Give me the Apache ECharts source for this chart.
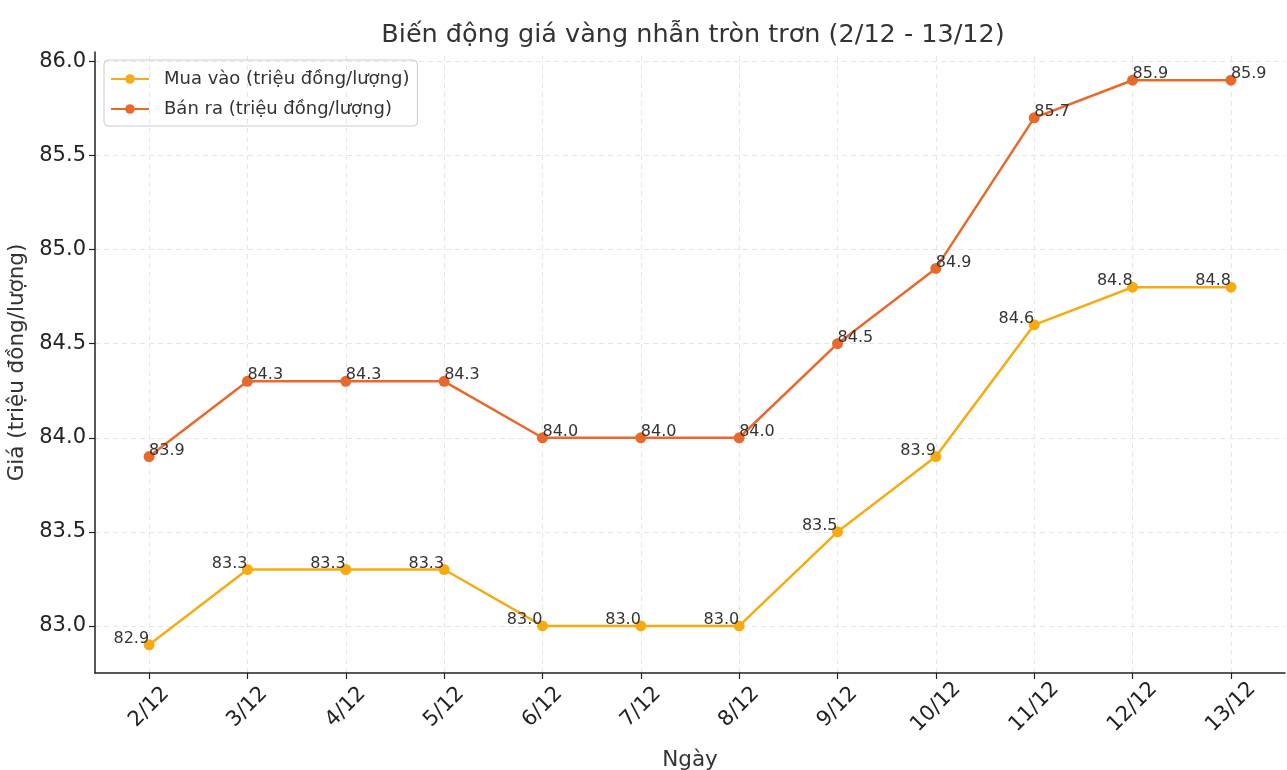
<!DOCTYPE html>
<html><head><meta charset="utf-8">
<script src="https://cdn.jsdelivr.net/npm/echarts@6/dist/echarts.min.js"></script>
<style>html,body{margin:0;padding:0;background:#fff}#c{width:1287px;height:770px}</style>
</head><body><div id="c"></div>
<script>
const categories = ['2/12','3/12','4/12','5/12','6/12','7/12','8/12','9/12','10/12','11/12','12/12','13/12'];
const buyValues = [82.9, 83.3, 83.3, 83.3, 83.0, 83.0, 83.0, 83.5, 83.9, 84.6, 84.8, 84.8];
const sellValues = [83.9, 84.3, 84.3, 84.3, 84.0, 84.0, 84.0, 84.5, 84.9, 85.7, 85.9, 85.9];
const yTicks = [83.0, 83.5, 84.0, 84.5, 85.0, 85.5, 86.0];
const xIdx = categories.map((c,i)=>i);
const font = 'DejaVu Sans';
const chart = echarts.init(document.getElementById('c'));
chart.setOption({
  animation:false,
  backgroundColor:'#fff',
  title:{text:'Biến động giá vàng nhẫn tròn trơn (2/12 - 13/12)',left:688,textAlign:'center',top:17,
    textStyle:{fontFamily:font,fontSize:25.5,fontWeight:'normal',color:'#333'}},
  legend:{left:104,top:60,orient:'vertical',itemGap:12,itemWidth:38,itemHeight:12,
    padding:[10,8,8,6],borderColor:'#ccc',borderWidth:1,borderRadius:4,
    textStyle:{fontFamily:font,fontSize:18,color:'#333',padding:[0,0,0,10]},
    data:['Mua vào (triệu đồng/lượng)','Bán ra (triệu đồng/lượng)']},
  grid:{left:95,right:2,top:52,bottom:97,containLabel:false,outerBoundsMode:'none'},
  xAxis:{type:'value',min:-0.55,max:11.55,
    name:'Ngày',nameLocation:'middle',nameGap:76,nameTextStyle:{fontFamily:font,fontSize:21.5,color:'#333'},
    axisLine:{onZero:false,lineStyle:{color:'#222',width:1.5}},
    axisTick:{show:true,length:6,lineStyle:{color:'#222',width:1.2},customValues:xIdx},
    axisLabel:{customValues:xIdx,rotate:45,align:'center',verticalAlign:'middle',fontFamily:font,fontSize:21,color:'#222',margin:34,
      formatter:v=>categories[Math.round(v)]},
    splitLine:{show:false}},
  yAxis:{type:'value',min:82.75,max:86.05,
    name:'Giá (triệu đồng/lượng)',nameLocation:'middle',nameGap:62,nameRotate:90,
    nameTextStyle:{fontFamily:font,fontSize:21.5,color:'#333'},
    axisLine:{show:true,onZero:false,lineStyle:{color:'#222',width:1.5}},
    axisTick:{show:true,length:6,lineStyle:{color:'#222',width:1.2},customValues:yTicks},
    axisLabel:{customValues:yTicks,fontFamily:font,fontSize:21,color:'#222',margin:9,formatter:v=>v.toFixed(1)},
    splitLine:{show:false}},
  series:[
    {name:'gridx',type:'line',data:[],silent:true,z:0,
      markLine:{silent:true,symbol:'none',label:{show:false},z:0,
        lineStyle:{type:[5,4],color:'#e6e6e6',width:1},
        data:xIdx.map(i=>({xAxis:i})).concat(yTicks.map(v=>({yAxis:v})))}},
    {name:'Mua vào (triệu đồng/lượng)',type:'line',data:buyValues.map((v,i)=>[i,v]),z:3,
      color:'#F6AB12',itemStyle:{color:'#F6AB12'},symbol:'circle',symbolSize:11,lineStyle:{width:2.5,color:'#F6AB12'},
      label:{show:true,position:'left',distance:-5.5,offset:[0,-6],fontFamily:font,fontSize:16,color:'#333',formatter:p=>p.value[1].toFixed(1)}},
    {name:'Bán ra (triệu đồng/lượng)',type:'line',data:sellValues.map((v,i)=>[i,v]),z:3,
      color:'#E8692B',itemStyle:{color:'#E8692B'},symbol:'circle',symbolSize:11,lineStyle:{width:2.5,color:'#E8692B'},
      label:{show:true,position:'right',distance:-5.5,offset:[0,-6],fontFamily:font,fontSize:16,color:'#333',formatter:p=>p.value[1].toFixed(1)}}
  ]
});
</script></body></html>
